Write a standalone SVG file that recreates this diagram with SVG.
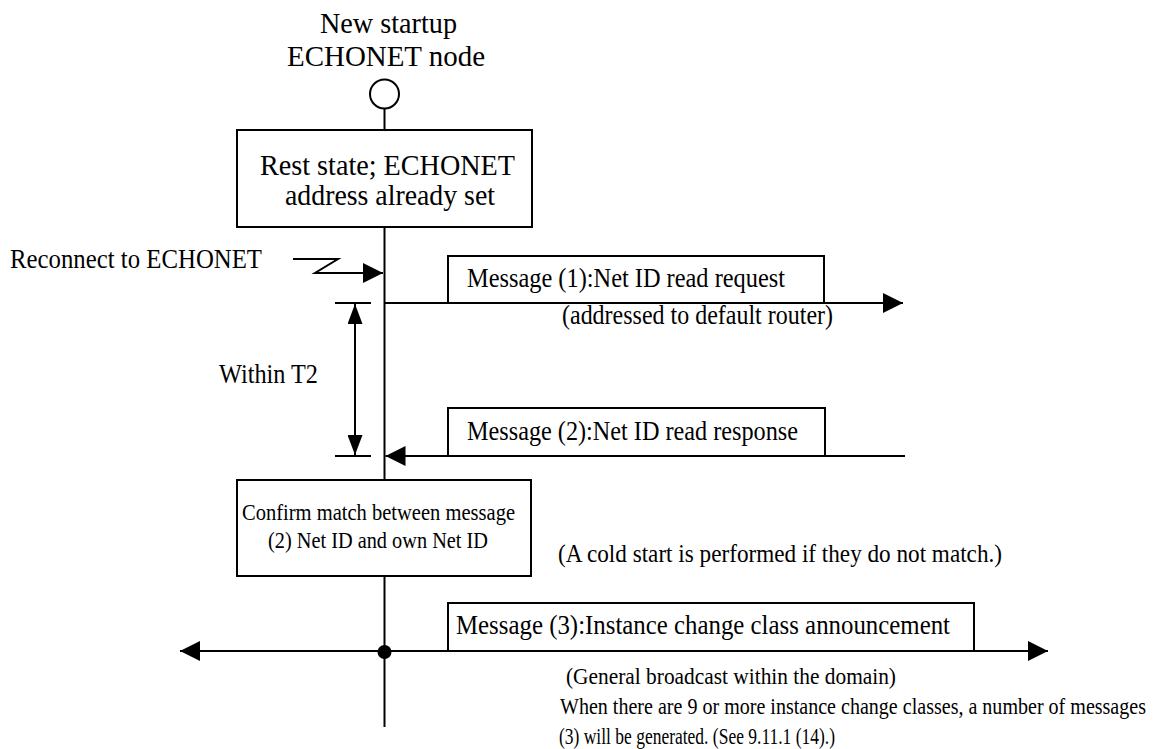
<svg xmlns="http://www.w3.org/2000/svg" width="1164" height="749" viewBox="0 0 1164 749">
<style>
  text { font-family: "Liberation Serif", "Times New Roman", serif; fill: #000; }
  .ln { stroke: #000; stroke-width: 2; fill: none; }
  .box { stroke: #000; stroke-width: 2; fill: #fff; }
</style>
<defs>
  <marker id="ah" markerUnits="userSpaceOnUse" markerWidth="20" markerHeight="20" refX="20" refY="10" orient="auto-start-reverse" viewBox="0 0 20 20">
    <path d="M0,0 L20,10 L0,20 Z" fill="#000"/>
  </marker>
  <marker id="ahs" markerUnits="userSpaceOnUse" markerWidth="20" markerHeight="15" refX="20" refY="7.5" orient="auto-start-reverse" viewBox="0 0 20 15">
    <path d="M0,0 L20,7.5 L0,15 Z" fill="#000"/>
  </marker>
</defs>
<rect width="1164" height="749" fill="#fff"/>

<g id="connectors">
  <line class="ln" x1="384.5" y1="108.5" x2="384.5" y2="130"/>
  <line class="ln" x1="384.5" y1="227" x2="384.5" y2="480"/>
  <line class="ln" x1="384.5" y1="576" x2="384.5" y2="727"/>
  <polyline class="ln" points="293,259 338,259 315,273 383,273" marker-end="url(#ah)"/>
  <line class="ln" x1="384.5" y1="303" x2="903" y2="303" marker-end="url(#ah)"/>
  <line class="ln" x1="905" y1="456" x2="385.5" y2="456" marker-end="url(#ah)"/>
  <line class="ln" x1="180" y1="651" x2="1048" y2="651" marker-start="url(#ah)" marker-end="url(#ah)"/>
  <circle cx="384.5" cy="652" r="7" fill="#000"/>
  <line class="ln" x1="335" y1="303" x2="371" y2="303"/>
  <line class="ln" x1="335" y1="456" x2="371" y2="456"/>
  <line class="ln" x1="355" y1="304" x2="355" y2="455" marker-start="url(#ahs)" marker-end="url(#ahs)"/>
</g>

<g id="node-start">
  <text x="320" y="33" font-size="30" textLength="137" lengthAdjust="spacingAndGlyphs">New startup</text>
  <text x="287" y="66" font-size="30" textLength="198" lengthAdjust="spacingAndGlyphs">ECHONET node</text>
  <circle cx="384.5" cy="94" r="14.5" class="box"/>
</g>

<g id="node-rest">
  <rect class="box" x="237" y="130" width="295" height="97"/>
  <text x="260" y="175" font-size="30" textLength="255" lengthAdjust="spacingAndGlyphs">Rest state; ECHONET</text>
  <text x="285" y="205" font-size="30" textLength="210" lengthAdjust="spacingAndGlyphs">address already set</text>
</g>

<g id="label-reconnect">
  <text x="10" y="268" font-size="27" textLength="252" lengthAdjust="spacingAndGlyphs">Reconnect to ECHONET</text>
</g>

<g id="msg1">
  <rect class="box" x="448" y="256" width="376" height="47"/>
  <text x="467" y="287" font-size="27" textLength="318" lengthAdjust="spacingAndGlyphs">Message (1):Net ID read request</text>
  <text x="562" y="324" font-size="27" textLength="271" lengthAdjust="spacingAndGlyphs">(addressed to default router)</text>
</g>

<g id="label-t2">
  <text x="219" y="383" font-size="27" textLength="99" lengthAdjust="spacingAndGlyphs">Within T2</text>
</g>

<g id="msg2">
  <rect class="box" x="448" y="408" width="377" height="48"/>
  <text x="467" y="440" font-size="27" textLength="331" lengthAdjust="spacingAndGlyphs">Message (2):Net ID read response</text>
</g>

<g id="node-confirm">
  <rect class="box" x="237" y="480" width="294" height="96"/>
  <text x="242" y="520" font-size="24" textLength="273" lengthAdjust="spacingAndGlyphs">Confirm match between message</text>
  <text x="268" y="548" font-size="24" textLength="220" lengthAdjust="spacingAndGlyphs">(2) Net ID and own Net ID</text>
</g>

<g id="label-cold">
  <text x="558" y="562" font-size="26" textLength="444" lengthAdjust="spacingAndGlyphs">(A cold start is performed if they do not match.)</text>
</g>

<g id="msg3">
  <rect class="box" x="448" y="603" width="526" height="48"/>
  <text x="456" y="634" font-size="27" textLength="494" lengthAdjust="spacingAndGlyphs">Message (3):Instance change class announcement</text>
  <text x="566" y="684" font-size="23" textLength="330" lengthAdjust="spacingAndGlyphs">(General broadcast within the domain)</text>
  <text x="560" y="714" font-size="23" textLength="586" lengthAdjust="spacingAndGlyphs">When there are 9 or more instance change classes, a number of messages</text>
  <text x="559" y="744" font-size="23" textLength="276" lengthAdjust="spacingAndGlyphs">(3) will be generated. (See 9.11.1 (14).)</text>
</g>
</svg>
